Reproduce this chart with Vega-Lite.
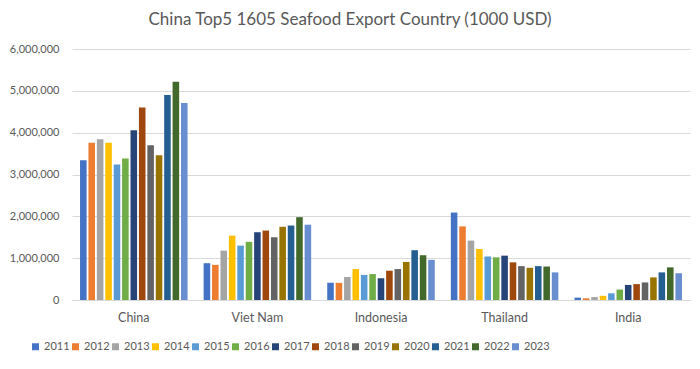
{
  "$schema": "https://vega.github.io/schema/vega-lite/v6.json",
  "autosize": "none",
  "width": 618,
  "height": 251,
  "padding": {"left": 72, "top": 49, "right": 10, "bottom": 69},
  "background": "white",
  "title": {
    "text": "China Top5 1605 Seafood Export Country (1000 USD)",
    "font": "Lato",
    "fontSize": 17,
    "fontWeight": "normal",
    "color": "#595959",
    "anchor": "middle",
    "dx": -31,
    "offset": 14
  },
  "config": {
    "view": {"stroke": null},
    "font": "Lato"
  },
  "data": {
    "values": [
      {"country": "China", "year": "2011", "value": 3340000},
      {"country": "China", "year": "2012", "value": 3760000},
      {"country": "China", "year": "2013", "value": 3840000},
      {"country": "China", "year": "2014", "value": 3760000},
      {"country": "China", "year": "2015", "value": 3240000},
      {"country": "China", "year": "2016", "value": 3380000},
      {"country": "China", "year": "2017", "value": 4060000},
      {"country": "China", "year": "2018", "value": 4600000},
      {"country": "China", "year": "2019", "value": 3700000},
      {"country": "China", "year": "2020", "value": 3460000},
      {"country": "China", "year": "2021", "value": 4900000},
      {"country": "China", "year": "2022", "value": 5220000},
      {"country": "China", "year": "2023", "value": 4710000},
      {"country": "Viet Nam", "year": "2011", "value": 880000},
      {"country": "Viet Nam", "year": "2012", "value": 840000},
      {"country": "Viet Nam", "year": "2013", "value": 1180000},
      {"country": "Viet Nam", "year": "2014", "value": 1540000},
      {"country": "Viet Nam", "year": "2015", "value": 1300000},
      {"country": "Viet Nam", "year": "2016", "value": 1390000},
      {"country": "Viet Nam", "year": "2017", "value": 1620000},
      {"country": "Viet Nam", "year": "2018", "value": 1660000},
      {"country": "Viet Nam", "year": "2019", "value": 1500000},
      {"country": "Viet Nam", "year": "2020", "value": 1750000},
      {"country": "Viet Nam", "year": "2021", "value": 1780000},
      {"country": "Viet Nam", "year": "2022", "value": 1980000},
      {"country": "Viet Nam", "year": "2023", "value": 1800000},
      {"country": "Indonesia", "year": "2011", "value": 410000},
      {"country": "Indonesia", "year": "2012", "value": 410000},
      {"country": "Indonesia", "year": "2013", "value": 550000},
      {"country": "Indonesia", "year": "2014", "value": 740000},
      {"country": "Indonesia", "year": "2015", "value": 600000},
      {"country": "Indonesia", "year": "2016", "value": 620000},
      {"country": "Indonesia", "year": "2017", "value": 520000},
      {"country": "Indonesia", "year": "2018", "value": 700000},
      {"country": "Indonesia", "year": "2019", "value": 740000},
      {"country": "Indonesia", "year": "2020", "value": 910000},
      {"country": "Indonesia", "year": "2021", "value": 1190000},
      {"country": "Indonesia", "year": "2022", "value": 1070000},
      {"country": "Indonesia", "year": "2023", "value": 960000},
      {"country": "Thailand", "year": "2011", "value": 2090000},
      {"country": "Thailand", "year": "2012", "value": 1760000},
      {"country": "Thailand", "year": "2013", "value": 1420000},
      {"country": "Thailand", "year": "2014", "value": 1220000},
      {"country": "Thailand", "year": "2015", "value": 1040000},
      {"country": "Thailand", "year": "2016", "value": 1020000},
      {"country": "Thailand", "year": "2017", "value": 1060000},
      {"country": "Thailand", "year": "2018", "value": 900000},
      {"country": "Thailand", "year": "2019", "value": 810000},
      {"country": "Thailand", "year": "2020", "value": 770000},
      {"country": "Thailand", "year": "2021", "value": 810000},
      {"country": "Thailand", "year": "2022", "value": 800000},
      {"country": "Thailand", "year": "2023", "value": 660000},
      {"country": "India", "year": "2011", "value": 56000},
      {"country": "India", "year": "2012", "value": 40000},
      {"country": "India", "year": "2013", "value": 70000},
      {"country": "India", "year": "2014", "value": 100000},
      {"country": "India", "year": "2015", "value": 160000},
      {"country": "India", "year": "2016", "value": 250000},
      {"country": "India", "year": "2017", "value": 360000},
      {"country": "India", "year": "2018", "value": 380000},
      {"country": "India", "year": "2019", "value": 420000},
      {"country": "India", "year": "2020", "value": 540000},
      {"country": "India", "year": "2021", "value": 660000},
      {"country": "India", "year": "2022", "value": 780000},
      {"country": "India", "year": "2023", "value": 640000}
    ]
  },
  "mark": {"type": "bar"},
  "encoding": {
    "x": {
      "field": "country",
      "type": "nominal",
      "sort": ["China", "Viet Nam", "Indonesia", "Thailand", "India"],
      "scale": {"paddingInner": 0.13, "paddingOuter": 0.065},
      "axis": {
        "title": null,
        "labelAngle": 0,
        "labelFont": "Lato",
        "labelFontSize": 12.5,
        "labelColor": "#595959",
        "labelPadding": 11,
        "ticks": false,
        "domainColor": "#D9D9D9",
        "grid": false
      }
    },
    "xOffset": {
      "field": "year",
      "type": "nominal",
      "scale": {"paddingInner": 0.22}
    },
    "y": {
      "field": "value",
      "type": "quantitative",
      "scale": {"domain": [0, 6000000]},
      "axis": {
        "title": null,
        "format": ",d",
        "values": [0, 1000000, 2000000, 3000000, 4000000, 5000000, 6000000],
        "labelOverlap": false,
        "labelFont": "Lato",
        "labelFontSize": 11,
        "labelColor": "#595959",
        "labelPadding": 13,
        "ticks": false,
        "domain": false,
        "gridColor": "#D9D9D9"
      }
    },
    "color": {
      "field": "year",
      "type": "nominal",
      "scale": {
        "domain": ["2011","2012","2013","2014","2015","2016","2017","2018","2019","2020","2021","2022","2023"],
        "range": ["#4472C4","#ED7D31","#A5A5A5","#FFC000","#5B9BD5","#70AD47","#264478","#9E480E","#636363","#997300","#255E91","#43682B","#698ED0"]
      },
      "legend": {
        "title": null,
        "orient": "none",
        "legendX": -42,
        "legendY": 292,
        "direction": "horizontal",
        "columns": 13,
        "symbolType": "square",
        "symbolSize": 49,
        "symbolStrokeWidth": 0,
        "labelFont": "Lato",
        "labelFontSize": 11,
        "labelColor": "#595959",
        "labelOffset": 3,
        "columnPadding": 0,
        "padding": 0
      }
    }
  }
}
